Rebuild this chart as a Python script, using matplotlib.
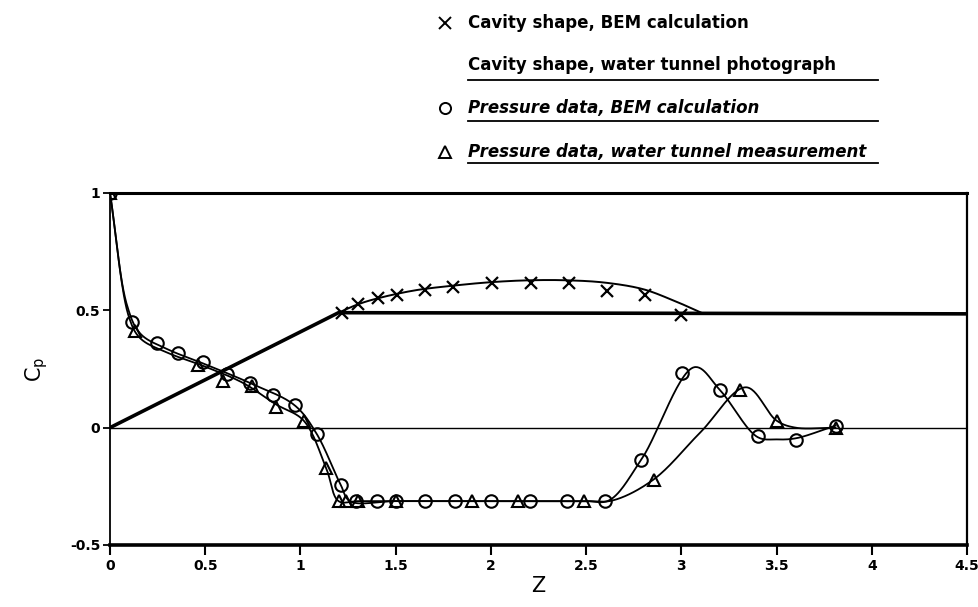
import numpy as np
import matplotlib
matplotlib.use("Agg")
import matplotlib.pyplot as plt
from matplotlib.lines import Line2D

# ---------------- data ----------------
# Pressure data, BEM calculation (circles)
bem_p_x = [0.0, 0.114, 0.245, 0.359, 0.49, 0.613, 0.735, 0.854, 0.972, 1.085, 1.211,
           1.29, 1.40, 1.50, 1.654, 1.809, 2.003, 2.203, 2.40, 2.597,
           2.79, 3.006, 3.204, 3.40, 3.603, 3.81]
bem_p_y = [1.0, 0.452, 0.36, 0.318, 0.278, 0.23, 0.19, 0.14, 0.095, -0.026, -0.243,
           -0.313, -0.313, -0.313, -0.313, -0.313, -0.313, -0.313, -0.313, -0.313,
           -0.136, 0.235, 0.159, -0.037, -0.051, 0.009]
# knots of the BEM pressure curve
bem_curve_x = [0.0, 0.09, 0.16, 0.30, 0.50, 0.75, 0.97, 1.085, 1.211, 1.26, 1.5, 2.0,
               2.3, 2.5, 2.62, 2.79, 3.07, 3.204, 3.40, 3.50, 3.603, 3.81]
bem_curve_y = [1.0, 0.52, 0.40, 0.335, 0.27, 0.185, 0.095, -0.026, -0.243, -0.313,
               -0.313, -0.313, -0.313, -0.313, -0.31, -0.136, 0.258, 0.159, -0.04,
               -0.05, -0.045, 0.009]

# Pressure data, water tunnel measurement (triangles)
wt_p_x = [0.0, 0.13, 0.464, 0.595, 0.744, 0.87, 1.017, 1.135, 1.2, 1.24, 1.3, 1.5,
          1.9, 2.14, 2.49, 2.854, 3.309, 3.50, 3.81]
wt_p_y = [1.0, 0.41, 0.268, 0.20, 0.176, 0.09, 0.03, -0.172, -0.313, -0.313, -0.313,
          -0.313, -0.313, -0.313, -0.313, -0.221, 0.162, 0.027, 0.0]
# knots of the measured-pressure curve
wt_curve_x = [0.0, 0.10, 0.16, 0.30, 0.50, 0.70, 0.87, 1.017, 1.135, 1.2, 1.3, 1.5,
              2.0, 2.3, 2.5, 2.64, 2.854, 3.10, 3.34, 3.50, 3.60, 3.81]
wt_curve_y = [1.0, 0.47, 0.38, 0.32, 0.26, 0.19, 0.10, 0.03, -0.172, -0.313, -0.313,
              -0.313, -0.313, -0.313, -0.313, -0.31, -0.221, -0.02, 0.172, 0.03, 0.0, 0.0]

# Cavity shape, BEM calculation (x markers)
cav_bem_x = [1.217, 1.304, 1.409, 1.509, 1.654, 1.803, 2.008, 2.209, 2.41, 2.609, 2.81, 3.0]
cav_bem_y = [0.488, 0.528, 0.552, 0.566, 0.587, 0.601, 0.616, 0.616, 0.618, 0.584, 0.566, 0.481]

# Cavity shape, water tunnel photograph (line)
cav_ph_x = [1.2, 1.3, 1.4, 1.6, 1.8, 2.0, 2.2, 2.4, 2.6, 2.8, 2.95, 3.05, 3.11]
cav_ph_y = [0.49, 0.525, 0.55, 0.585, 0.605, 0.62, 0.628, 0.628, 0.618, 0.59, 0.545, 0.51, 0.488]

# Body contour (cone + cylinder)
body_x = [0.0, 1.2, 4.5]
body_y = [0.0, 0.49, 0.485]

x_ticks = [0, 0.5, 1, 1.5, 2, 2.5, 3, 3.5, 4, 4.5]
x_ticklabels = ["0", "0.5", "1", "1.5", "2", "2.5", "3", "3.5", "4", "4.5"]
y_ticks = [-0.5, 0, 0.5, 1]
y_ticklabels = ["-0.5", "0", "0.5", "1"]

legend_labels = ["Cavity shape, BEM calculation",
                 "Cavity shape, water tunnel photograph",
                 "Pressure data, BEM calculation",
                 "Pressure data, water tunnel measurement"]


def catmull(xs, ys, sx=190.0, sy=235.0, n=30):
    """Centripetal Catmull-Rom through the given points."""
    P = np.column_stack([np.asarray(xs, float) * sx, np.asarray(ys, float) * sy])
    P = np.vstack([2 * P[0] - P[1], P, 2 * P[-1] - P[-2]])
    out = []
    for i in range(1, len(P) - 2):
        p0, p1, p2, p3 = P[i - 1], P[i], P[i + 1], P[i + 2]
        a = 0.5
        t0 = 0.0
        t1 = t0 + max(np.linalg.norm(p1 - p0), 1e-6) ** a
        t2 = t1 + max(np.linalg.norm(p2 - p1), 1e-6) ** a
        t3 = t2 + max(np.linalg.norm(p3 - p2), 1e-6) ** a
        t = np.linspace(t1, t2, n)[:, None]
        A1 = (t1 - t) / (t1 - t0) * p0 + (t - t0) / (t1 - t0) * p1
        A2 = (t2 - t) / (t2 - t1) * p1 + (t - t1) / (t2 - t1) * p2
        A3 = (t3 - t) / (t3 - t2) * p2 + (t - t2) / (t3 - t2) * p3
        B1 = (t2 - t) / (t2 - t0) * A1 + (t - t0) / (t2 - t0) * A2
        B2 = (t3 - t) / (t3 - t1) * A2 + (t - t1) / (t3 - t1) * A3
        C = (t2 - t) / (t2 - t1) * B1 + (t - t1) / (t2 - t1) * B2
        out.append(C if i == 1 else C[1:])
    C = np.vstack(out)
    return C[:, 0] / sx, C[:, 1] / sy


W, H = 979, 607
fig = plt.figure(figsize=(W / 100, H / 100), dpi=100)
ax = fig.add_axes([110 / W, 1 - 545 / H, (967 - 110) / W, (545 - 193) / H])

ax.set_xlim(0, 4.5)
ax.set_ylim(-0.5, 1)

# zero line
ax.axhline(0, color="black", lw=1.0, zorder=1)

# body
ax.plot(body_x, body_y, color="black", lw=2.6, solid_capstyle="butt", zorder=2)

# cavity photograph line
cx, cy = catmull(cav_ph_x, cav_ph_y)
ax.plot(cx, cy, color="black", lw=1.4, zorder=2)
# cavity BEM markers
ax.plot(cav_bem_x, cav_bem_y, linestyle="none", marker="x", ms=9, mew=1.6,
        color="black", zorder=3)

# pressure curves
px_, py_ = catmull(bem_curve_x, bem_curve_y)
ax.plot(px_, py_, color="black", lw=1.3, zorder=2)
tx_, ty_ = catmull(wt_curve_x, wt_curve_y)
ax.plot(tx_, ty_, color="black", lw=1.3, zorder=2)

ax.plot(bem_p_x, bem_p_y, linestyle="none", marker="o", ms=9, mew=1.5,
        mfc="none", mec="black", zorder=4)
ax.plot(wt_p_x, wt_p_y, linestyle="none", marker="^", ms=8, mew=1.5,
        mfc="none", mec="black", zorder=4)

# spines / ticks
ax.spines["bottom"].set_linewidth(2.6)
ax.spines["top"].set_linewidth(2.2)
ax.spines["left"].set_linewidth(1.3)
ax.spines["right"].set_linewidth(1.6)
ax.set_xticks(x_ticks)
ax.set_xticklabels(x_ticklabels, fontsize=10, fontweight="bold")
ax.set_yticks(y_ticks)
ax.set_yticklabels(y_ticklabels, fontsize=10, fontweight="bold")
ax.tick_params(axis="x", direction="out", length=7, width=1.5, pad=3)
ax.tick_params(axis="y", direction="out", length=5, width=1.3, pad=2)

ax.set_xlabel("Z", fontsize=15, labelpad=2)
ax.set_ylabel(r"C$_\mathregular{p}$", fontsize=15, labelpad=14)

# ---------------- legend (custom, underlined) ----------------
def fx(p):
    return p / W


def fy(p):
    return 1 - p / H


rows_y = [23, 65, 108, 152]
under_y = [None, 80, 121, 163]
markers = ["x", None, "o", "^"]
for lab, ry, uy, mk in zip(legend_labels, rows_y, under_y, markers):
    fig.text(fx(468), fy(ry), lab, fontsize=12, fontweight="bold",
             style="italic" if lab.startswith("Pressure") else "normal",
             ha="left", va="center")
    if mk is not None:
        fig.add_artist(Line2D([fx(445)], [fy(ry)], marker=mk, ms=8,
                              mew=1.4, mfc="none", mec="black",
                              linestyle="none", transform=fig.transFigure))
    if uy is not None:
        fig.add_artist(Line2D([fx(468), fx(878)], [fy(uy), fy(uy)], color="black",
                              lw=1.3, transform=fig.transFigure))

fig.savefig("out.png", dpi=100)
